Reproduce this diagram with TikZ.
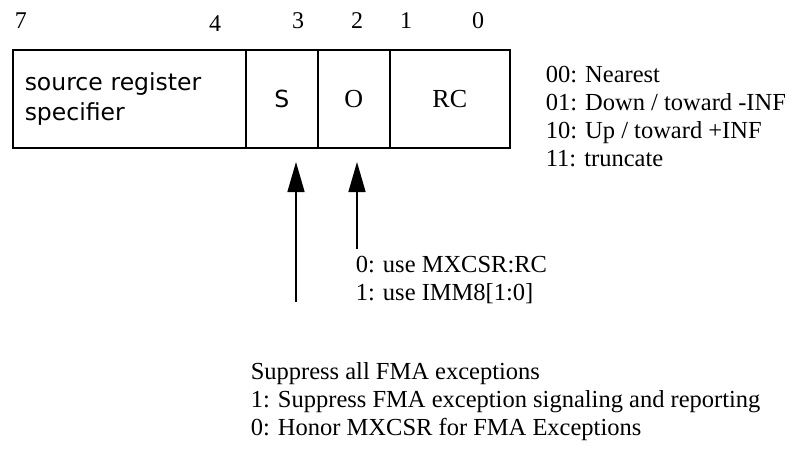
\documentclass[tikz,border=0pt]{standalone}
\usepackage{fontspec}
\setmainfont{Liberation Serif}
\newfontfamily\verdana{DejaVu Sans}
\usetikzlibrary{arrows.meta, positioning}

\begin{document}
\begin{tikzpicture}[x=1pt, y=-1pt, line width=1.5pt,
    font=\fontsize{24.5}{28}\selectfont,
    field/.style={draw, inner sep=0pt, minimum height=98pt, anchor=north west},
    bitno/.style={anchor=base, inner sep=0pt, font=\fontsize{24}{28}\selectfont},
    note/.style={align=left, anchor=north west, inner sep=0pt},
    pointer/.style={-{Triangle[length=30pt, width=17pt]}}]

  \useasboundingbox (0,0) rectangle (801,450);

  % bit numbers above the byte
  \foreach \b/\x/\y in {7/21/28, 4/215/31, 3/298/28, 2/357/28, 1/406/28, 0/478/28}
    \node[bitno] (bit\b) at (\x,\y) {\b};

  % the four fields of the byte
  \node[field, minimum width=233pt, align=left, text width=209pt, inner xsep=12pt,
        font=\verdana\fontsize{23.5}{30}\selectfont] (src) at (12,49)
        {source register\\specifier};
  \node[field, minimum width=72pt, font=\verdana\fontsize{23.5}{30}\selectfont] (sbit) at (245,49) {S};
  \node[field, minimum width=72pt, font=\fontsize{26}{30}\selectfont] (obit) at (317,49) {O};
  \node[field, minimum width=120pt, font=\fontsize{26}{30}\selectfont] (rc) at (389,49) {RC};

  % rounding control values
  \node[note] (rcvals) at (545,65)
    {00: Nearest\\01: Down / toward -INF\\10: Up / toward +INF\\11: truncate};

  % pointers up to S and O
  \coordinate (stip) at (296,162);
  \coordinate (sfoot) at (296,302);
  \coordinate (otip) at (357,162);
  \coordinate (ofoot) at (357,249);
  \draw[pointer] (sfoot) -- (stip);
  \draw[pointer] (ofoot) -- (otip);

  % meaning of O
  \node[note] (ovals) at (355,255) {0: use MXCSR:RC\\1: use IMM8[1:0]};

  % meaning of S
  \node[note] (svals) at (250,362)
    {Suppress all FMA exceptions\\1: Suppress FMA exception signaling and reporting\\0: Honor MXCSR for FMA Exceptions};

\end{tikzpicture}
\end{document}
